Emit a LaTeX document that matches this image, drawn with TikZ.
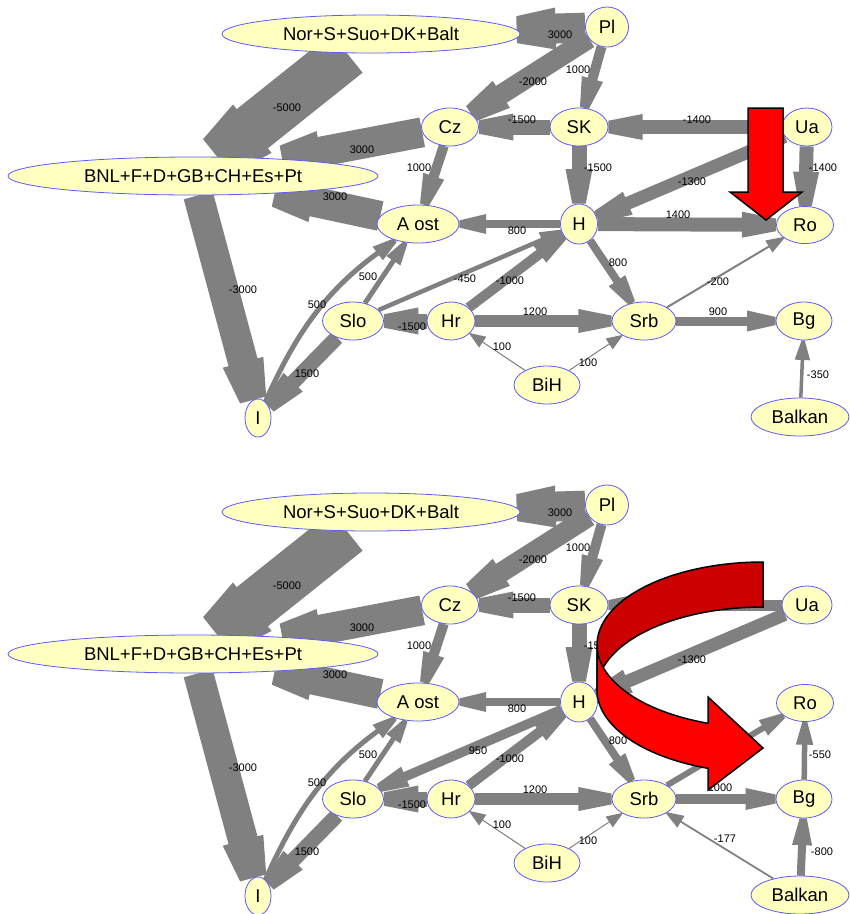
\documentclass[tikz,border=0pt]{standalone}
\usepackage{fontspec}
\setmainfont{Liberation Sans}
\usetikzlibrary{calc,shapes.geometric}
\pgfdeclarelayer{back}
\pgfsetlayers{back,main}
\definecolor{cityfill}{RGB}{255,255,192}
\definecolor{cityline}{RGB}{90,90,255}
\definecolor{flowgray}{RGB}{128,128,128}
\definecolor{darkred}{RGB}{204,0,0}
\tikzset{city/.style={ellipse,draw=cityline,fill=cityfill,line width=0.8pt,inner sep=0pt,minimum height=38,font=\fontsize{18.5}{20}\selectfont}}
\tikzset{lbl/.style={inner sep=0pt,font=\fontsize{11}{12}\selectfont}}
\tikzset{bigarrow/.style={draw=black,line width=1.5pt}}
\newcommand\flow[6][]{%
\pgfmathsetmacro\hdlen{min(14+1.6*#4,30+0.3*#4)}%
\pgfmathsetmacro\hdbase{#4/2+6}%
\pgfmathsetmacro\hdtip{#4*0.45}%
\path (#2) to[#1] node[coordinate,pos=0.9] (fp) {} node[coordinate,pos=1] (fe) {} (#3);
\coordinate (fb) at ($(fe)!\hdlen pt!(fp)$);
\begin{pgfonlayer}{back}
\draw[flowgray,line width=#4pt,shorten >=\hdlen pt-0.5pt] (#2) to[#1] (#3);
\fill[flowgray] ($(fb)!\hdbase pt!90:(fe)$) -- ($(fe)!\hdtip pt!-90:(fb)$)
  -- ($(fe)!\hdtip pt!90:(fb)$) -- ($(fb)!\hdbase pt!-90:(fe)$) -- cycle;
\end{pgfonlayer}
\node[lbl] at (#6) {#5};}

\begin{document}
\begin{tikzpicture}[x=1pt,y=-1pt]
\useasboundingbox (0,0) rectangle (850,914);
\foreach \p/\dy in {1/0,2/478}{
\begin{scope}[shift={(0,\dy)}]
\node[city,minimum width=298] (Nor\p) at (371,34) {Nor+S+Suo+DK+Balt};
\node[city,minimum width=43,minimum height=40] (Pl\p) at (607,27) {Pl};
\node[city,minimum width=57] (Cz\p) at (450,127) {Cz};
\node[city,minimum width=58] (SK\p) at (579,127) {SK};
\node[city,minimum width=50] (Ua\p) at (807,127) {Ua};
\node[city,minimum width=370] (BNL\p) at (193,176) {BNL+F+D+GB+CH+Es+Pt};
\node[city,minimum width=82] (Aost\p) at (418,224) {A ost};
\node[city,minimum width=37,minimum height=40] (H\p) at (579,224) {H};
\node[city,minimum width=57,minimum height=37] (Ro\p) at (805,225) {Ro};
\node[city,minimum width=61] (Slo\p) at (353,321) {Slo};
\node[city,minimum width=48] (Hr\p) at (451,321) {Hr};
\node[city,minimum width=64] (Srb\p) at (644,321) {Srb};
\node[city,minimum width=56] (Bg\p) at (804,321) {Bg};
\node[city,minimum width=66] (BiH\p) at (547,385) {BiH};
\node[city,minimum width=98] (Balkan\p) at (800,417) {Balkan};
\node[city,minimum width=26] (I\p) at (258,418) {I};
\flow{Nor\p}{BNL\p}{50}{-5000}{287,108}
\flow{Pl\p}{Nor\p}{30}{3000}{560,35}
\flow{Pl\p}{Cz\p}{20}{-2000}{533,82}
\flow{Pl\p}{SK\p}{10}{1000}{578,70}
\flow{SK\p}{Cz\p}{15}{-1500}{522,120}
\flow{Cz\p}{BNL\p}{30}{3000}{362,150}
\flow{Cz\p}{Aost\p}{10}{1000}{419,168}
\flow{SK\p}{H\p}{15}{-1500}{598,168}
\flow{Ua\p}{H\p}{13}{-1300}{692,182}
\flow{Aost\p}{BNL\p}{30}{3000}{335,197}
\flow{H\p}{Aost\p}{8}{800}{517,231}
\flow{BNL\p}{I\p}{30}{-3000}{243,290}
\flow[bend left=15]{I\p}{Aost\p}{5}{500}{317,305}
\flow{Slo\p}{Aost\p}{5}{500}{368,277}
\flow{Hr\p}{H\p}{10}{-1000}{510,281}
\flow{H\p}{Srb\p}{8}{800}{618,263}
\flow{Hr\p}{Slo\p}{15}{-1500}{412,327}
\flow{Hr\p}{Srb\p}{12}{1200}{535,312}
\flow{Slo\p}{I\p}{15}{1500}{307,374}
\flow{BiH\p}{Hr\p}{1}{100}{502,347}
\flow{BiH\p}{Srb\p}{1}{100}{588,363}
\end{scope}}

\flow{Ua1}{SK1}{14}{-1400}{697,120}
\flow{Ua1}{Ro1}{14}{-1400}{823,168}
\flow{H1}{Ro1}{14}{1400}{678,215}
\flow{Slo1}{H1}{4.5}{-450}{465,279}
\flow{Srb1}{Ro1}{2}{-200}{718,282}
\flow{Srb1}{Bg1}{9}{900}{718,312}
\flow{Balkan1}{Bg1}{3.5}{-350}{818,375}

\begin{scope}[shift={(0,478)}]
\flow{Ua2}{SK2}{11}{}{697,120}
\flow{H2}{Slo2}{9.5}{950}{478,273}
\flow{Srb2}{Ro2}{6}{}{718,282}
\flow{Bg2}{Ro2}{5.5}{-550}{820,277}
\flow{Srb2}{Bg2}{10}{1000}{720,310}
\flow{Balkan2}{Bg2}{8}{-800}{822,374}
\flow{Balkan2}{Srb2}{1.77}{-177}{725,361}
\end{scope}

\draw[bigarrow,fill=red] (748,108) -- (783,108) -- (783,192) -- (802,192) -- (766,220) -- (730,192) -- (748,192) -- cycle;
\draw[bigarrow,fill=darkred] plot[domain=-90:-180,variable=\t,samples=40] ({763+166*cos(\t)},{645+83*sin(\t)})
  -- plot[domain=180:270,variable=\t,samples=40] ({763+166*cos(\t)},{690+83*sin(\t)}) -- cycle;
\draw[bigarrow,fill=red] plot[domain=180:109.35,variable=\t,samples=30] ({763+166*cos(\t)},{645+83*sin(\t)})
  -- (708,697) -- (763,748) -- (708,790)
  -- plot[domain=109.35:180,variable=\t,samples=30] ({763+166*cos(\t)},{690+83*sin(\t)}) -- cycle;
\end{tikzpicture}
\end{document}
